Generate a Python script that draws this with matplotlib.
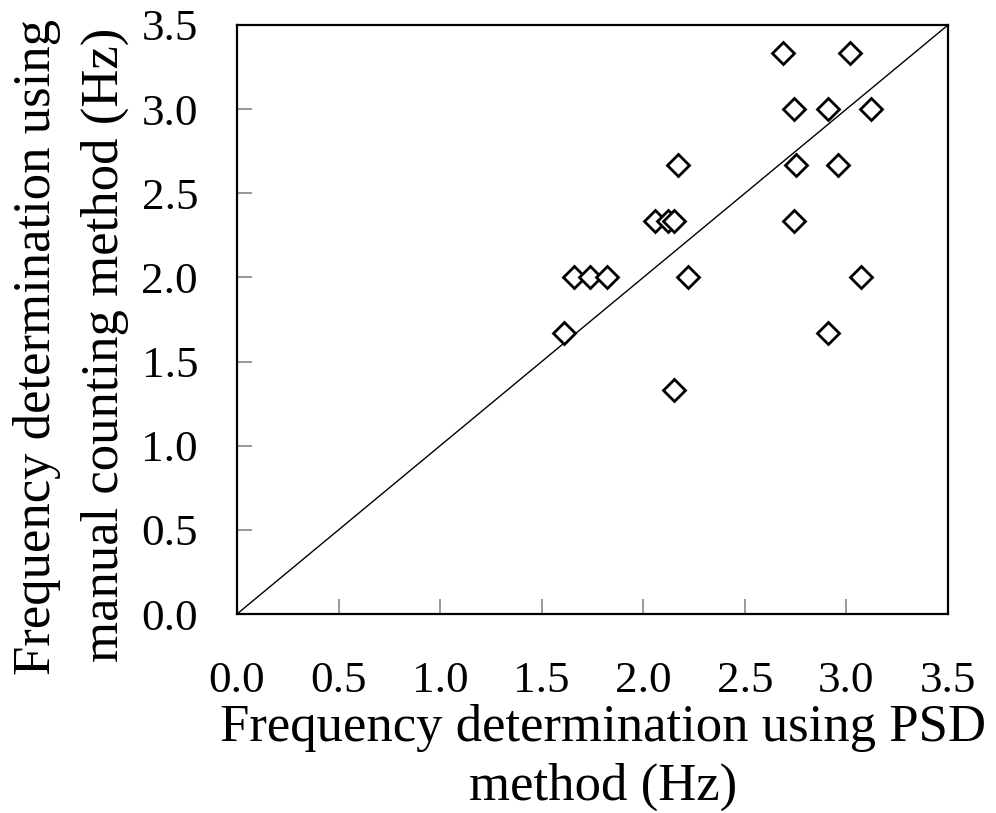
import matplotlib
matplotlib.use("agg")
import matplotlib.pyplot as plt

# PSD frequency (x) vs manual counting frequency (y), Hz
psd_freq = [2.69, 3.02,
            2.74, 2.91, 3.12,
            2.17, 2.75, 2.96,
            2.06, 2.12, 2.15, 2.74,
            1.66, 1.74, 1.82, 2.22, 3.07,
            1.61, 2.91,
            2.15]
manual_freq = [3.333, 3.333,
               3.0, 3.0, 3.0,
               2.667, 2.667, 2.667,
               2.333, 2.333, 2.333, 2.333,
               2.0, 2.0, 2.0, 2.0, 2.0,
               1.667, 1.667,
               1.333]
ticks = [0.0, 0.5, 1.0, 1.5, 2.0, 2.5, 3.0, 3.5]
tick_labels = ["%.1f" % t for t in ticks]

plt.rcParams['font.family'] = ['Liberation Serif', 'DejaVu Serif']

W, H = 996, 813
fig = plt.figure(figsize=(W/100, H/100), dpi=100)
ax = fig.add_axes([237/W, 1-614/H, (948-237)/W, (614-25)/H])

ax.plot([0, 3.5], [0, 3.5], color='black', lw=1.0)
ax.plot(psd_freq, manual_freq, 'D', ms=11.5, mfc='white', mec='black', mew=2.0,
        linestyle='none', clip_on=False)

ax.set_xlim(0, 3.5)
ax.set_ylim(0, 3.5)
ax.set_xticks(ticks)
ax.set_xticklabels(tick_labels)
ax.set_yticks(ticks)
ax.set_yticklabels(tick_labels)
ax.tick_params(axis='both', direction='in', length=11, width=1.2, color='#888888',
               labelsize=32.5)
ax.tick_params(axis='x', pad=34)
ax.tick_params(axis='y', pad=28)
for s in ax.spines.values():
    s.set_linewidth(1.6)
    s.set_color('black')

# axis titles, one text per line so each baseline sits where it should
lab = dict(fontsize=38, ha='center', va='baseline')
fig.text(603/W, 1-741/H, "Frequency determination using PSD", **lab)
fig.text(603/W, 1-800/H, "method (Hz)", **lab)
fig.text(50/W, 1-347/H, "Frequency determination using", rotation=90,
         rotation_mode='anchor', **lab)
fig.text(118/W, 1-345/H, "manual counting method (Hz)", rotation=90,
         rotation_mode='anchor', **lab)

fig.savefig("out.png", dpi=100)
